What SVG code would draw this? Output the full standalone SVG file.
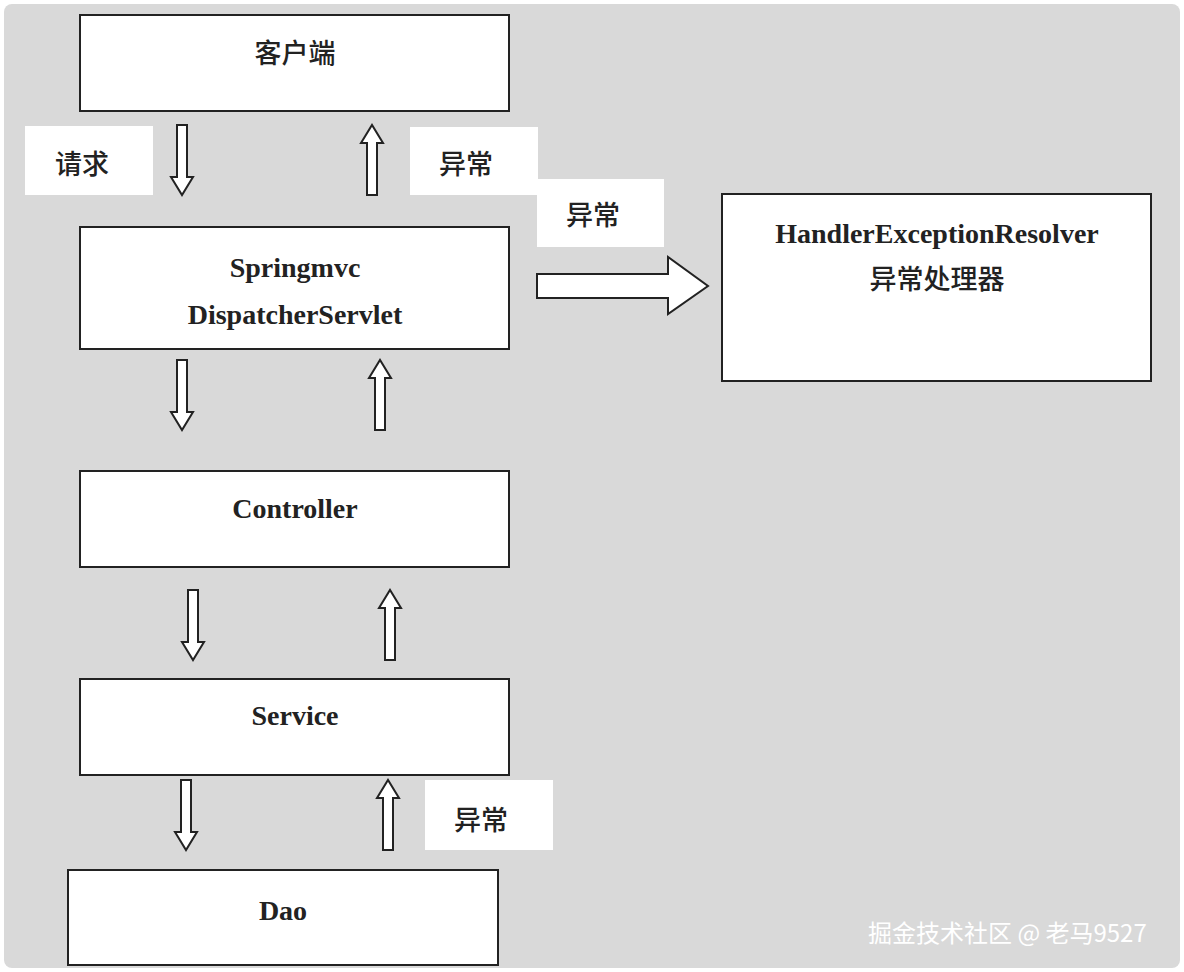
<svg xmlns="http://www.w3.org/2000/svg" width="1184" height="972" viewBox="0 0 1184 972">
<defs>
<style>
.box{fill:#fff;stroke:#222;stroke-width:2}
.lbl{fill:#fff}
.t{font-family:"Liberation Serif","Noto Sans CJK SC",serif;font-size:28px;font-weight:bold;fill:#222;text-anchor:middle}
.c{font-family:"Noto Sans CJK SC",sans-serif;font-size:27px;font-weight:500;fill:#222;text-anchor:middle}
.ar{fill:#fff;stroke:#222;stroke-width:2;stroke-linejoin:miter}
</style>
<path id="dn" class="ar" d="M-5,0 H5 V52 H11 L0,70 L-11,52 H-5 Z"/>
<path id="up" class="ar" d="M-5,70 H5 V18 H11 L0,0 L-11,18 H-5 Z"/>
</defs>
<rect x="4" y="4" width="1176" height="964" rx="8" fill="#d9d9d9"/>
<g id="client"><rect class="box" x="80" y="15" width="429" height="96"/><text class="c" x="295" y="63">客户端</text></g>
<g id="dispatcher"><rect class="box" x="80" y="227" width="429" height="122"/><text class="t" x="295" y="277">Springmvc</text><text class="t" x="295" y="324">DispatcherServlet</text></g>
<g id="resolver"><rect class="box" x="722" y="194" width="429" height="187"/><text class="t" x="937" y="243">HandlerExceptionResolver</text><text class="c" x="937" y="289">异常处理器</text></g>
<g id="controller"><rect class="box" x="80" y="471" width="429" height="96"/><text class="t" x="295" y="518">Controller</text></g>
<g id="service"><rect class="box" x="80" y="679" width="429" height="96"/><text class="t" x="295" y="725">Service</text></g>
<g id="dao"><rect class="box" x="68" y="870" width="430" height="95"/><text class="t" x="283" y="920">Dao</text></g>
<g id="labels">
<rect class="lbl" x="25" y="126" width="128" height="69"/><text class="c" x="82" y="174">请求</text>
<rect class="lbl" x="410" y="127" width="128" height="68"/><text class="c" x="466" y="174">异常</text>
<rect class="lbl" x="537" y="179" width="127" height="68"/><text class="c" x="593" y="225">异常</text>
<rect class="lbl" x="425" y="780" width="128" height="70"/><text class="c" x="481" y="830">异常</text>
</g>
<g id="connectors">
<use href="#dn" x="182" y="125"/><use href="#up" x="372" y="125"/>
<use href="#dn" x="182" y="360"/><use href="#up" x="380" y="360"/>
<use href="#dn" x="193" y="590"/><use href="#up" x="390" y="590"/>
<use href="#dn" x="186" y="780"/><use href="#up" x="388" y="780"/>
<path class="ar" d="M537,274 H668 V257 L708,286 L668,314 V298 H537 Z"/>
</g>
<text x="868" y="942" font-family="'Noto Sans CJK SC',sans-serif" font-size="24" fill="#ffffff">掘金技术社区 @ 老马9527</text>
</svg>
